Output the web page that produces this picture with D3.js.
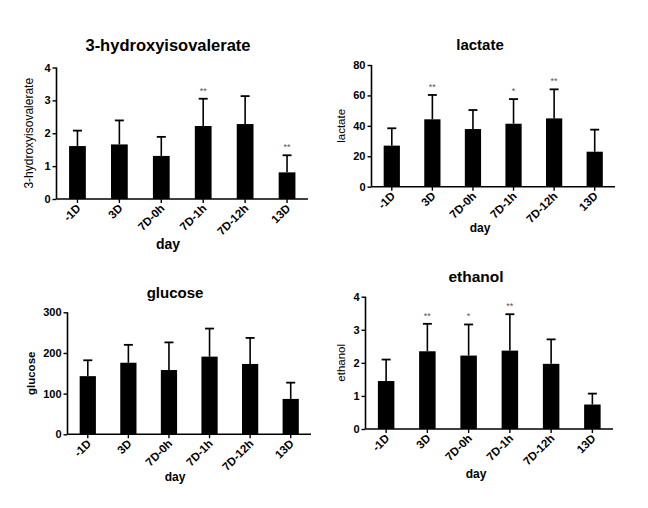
<!DOCTYPE html>
<html><head><meta charset="utf-8">
<script src="https://cdn.jsdelivr.net/npm/d3@7"></script>
<style>body{margin:0;background:#fff}svg{display:block}text{font-family:"Liberation Sans",Arial,sans-serif}</style>
</head><body><svg id="c" width="648" height="508"></svg>
<script>
const categories = ["-1D","3D","7D-0h","7D-1h","7D-12h","13D"];

const hivMean = [1.61,1.66,1.31,2.22,2.28,0.81];
const hivErr  = [2.08,2.39,1.89,3.05,3.13,1.33];
const hivSig  = ["","","","**","","**"];
const hivTicks = [0,1,2,3,4];

const lacMean = [27,44.3,37.9,41.4,44.9,23];
const lacErr  = [38.4,60.3,50.4,57.6,64,37.5];
const lacSig  = ["","**","","*","**",""];
const lacTicks = [0,20,40,60,80];

const gluMean = [143,176,158,191,173,87];
const gluErr  = [182,220,226,260,237,127];
const gluSig  = ["","","","","",""];
const gluTicks = [0,100,200,300];

const ethMean = [1.45,2.35,2.22,2.37,1.97,0.74];
const ethErr  = [2.10,3.18,3.16,3.47,2.71,1.07];
const ethSig  = ["","**","*","**","",""];
const ethTicks = [0,1,2,3,4];

const panels = [
  {title:"3-hydroxyisovalerate", ylab:"3-hydroxyisovalerate", mean:hivMean, err:hivErr, sig:hivSig, ticks:hivTicks,
   x0:56.5, x1:308, yT:67.5, yB:199, titleX:168, titleY:51, titleFs:16.5, dayFs:14, ylabX:33, dayY:249, ylw:"normal", ylfs:12},
  {title:"lactate", ylab:"lactate", mean:lacMean, err:lacErr, sig:lacSig, ticks:lacTicks,
   x0:371.5, x1:615, yT:65, yB:186.7, titleX:480, titleY:50, titleFs:15, dayFs:12, ylabX:345, dayY:232, ylw:"normal", ylfs:11.5},
  {title:"glucose", ylab:"glucose", mean:gluMean, err:gluErr, sig:gluSig, ticks:gluTicks,
   x0:67.5, x1:311, yT:312.3, yB:434.3, titleX:175, titleY:298, titleFs:15, dayFs:12, ylabX:35, dayY:481, ylw:"bold", ylfs:11.5},
  {title:"ethanol", ylab:"ethanol", mean:ethMean, err:ethErr, sig:ethSig, ticks:ethTicks,
   x0:365.5, x1:613, yT:296.7, yB:429, titleX:476, titleY:282, titleFs:15.5, dayFs:12, ylabX:345, dayY:478, ylw:"normal", ylfs:11.5}
];

const svg = d3.select("#c");

panels.forEach(p => {
  const g = svg.append("g");
  const x = d3.scaleBand().domain(categories).range([p.x0, p.x1]).paddingInner(0.6).paddingOuter(0.3);
  const y = d3.scaleLinear().domain([0, d3.max(p.ticks)]).range([p.yB, p.yT]);

  g.selectAll("rect.bar").data(categories).join("rect")
    .attr("x", d => x(d)).attr("width", x.bandwidth())
    .attr("y", (d,i) => y(p.mean[i])).attr("height", (d,i) => p.yB - y(p.mean[i]))
    .attr("fill", "#000");
  g.selectAll("line.stem").data(categories).join("line")
    .attr("x1", d => x(d) + x.bandwidth()/2).attr("x2", d => x(d) + x.bandwidth()/2)
    .attr("y1", (d,i) => y(p.mean[i])).attr("y2", (d,i) => y(p.err[i]))
    .attr("stroke", "#000").attr("stroke-width", 1.6);
  g.selectAll("line.cap").data(categories).join("line")
    .attr("x1", d => x(d) + x.bandwidth()/2 - 4.5).attr("x2", d => x(d) + x.bandwidth()/2 + 4.5)
    .attr("y1", (d,i) => y(p.err[i])).attr("y2", (d,i) => y(p.err[i]))
    .attr("stroke", "#000").attr("stroke-width", 1.8);
  g.selectAll("text.sig").data(categories).join("text")
    .attr("x", d => x(d) + x.bandwidth()/2).attr("y", (d,i) => y(p.err[i]) - 5)
    .attr("text-anchor", "middle").attr("font-size", 9).attr("fill", "#555")
    .text((d,i) => p.sig[i]);

  const ya = g.append("g").attr("transform", `translate(${p.x0},0)`)
    .call(d3.axisLeft(y).tickValues(p.ticks).tickSize(4).tickPadding(2).tickFormat(d3.format("d")));
  ya.select(".domain").attr("stroke", "#000").attr("stroke-width", 1.6).attr("d", `M0,${p.yT}V${p.yB}`);
  ya.selectAll(".tick line").attr("stroke-width", 1.4);
  ya.selectAll("text").attr("font-size", 11).attr("font-weight", "bold").attr("fill", "#000")
    .style("font-family", '"Liberation Sans",Arial,sans-serif');

  const xa = g.append("g").attr("transform", `translate(0,${p.yB})`)
    .call(d3.axisBottom(x).tickSize(4).tickSizeOuter(0));
  xa.select(".domain").attr("stroke", "#000").attr("stroke-width", 1.6).attr("d", `M${p.x0},0H${p.x1}`);
  xa.selectAll(".tick line").attr("stroke-width", 1.4);
  xa.selectAll("text").attr("font-size", 11.5).attr("font-weight", "bold").attr("fill", "#000")
    .style("font-family", '"Liberation Sans",Arial,sans-serif')
    .attr("text-anchor", "end").attr("dy", null).attr("y", 0)
    .attr("transform", "translate(4,10) rotate(-45)");

  g.append("text").attr("x", p.titleX).attr("y", p.titleY).attr("text-anchor", "middle")
    .attr("font-size", p.titleFs).attr("font-weight", "bold").text(p.title);
  g.append("text").attr("x", p.titleX).attr("y", p.dayY).attr("text-anchor", "middle")
    .attr("font-size", p.dayFs).attr("font-weight", "bold").text("day");
  g.append("text").attr("transform", `translate(${p.ylabX},${(p.yT+p.yB)/2}) rotate(-90)`)
    .attr("text-anchor", "middle").attr("font-size", p.ylfs).attr("font-weight", p.ylw).text(p.ylab);
});
</script></body></html>
